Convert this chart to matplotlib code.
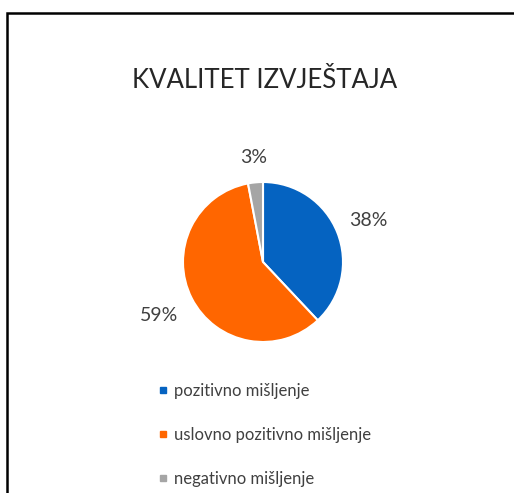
import matplotlib.pyplot as plt
import numpy as np
from matplotlib.lines import Line2D
from matplotlib.patches import Rectangle

plt.rcParams['font.family'] = ['Lato', 'DejaVu Sans']

# Data
title = 'KVALITET IZVJEŠTAJA'
categories = ['pozitivno mišljenje', 'uslovno pozitivno mišljenje', 'negativno mišljenje']
values = [38, 59, 3]
colors = ['#0563C1', '#FF6600', '#A5A5A5']
label_dist = [1.41, 1.46, 1.31]

W, H = 514, 493
fig = plt.figure(figsize=(W / 100, H / 100), dpi=100)

# outer chart frame
fig.patches.append(Rectangle((7 / W, -0.05), 1.1, (H - 13) / H + 0.05,
                             transform=fig.transFigure, fill=False,
                             edgecolor='black', linewidth=1.8))

fig.text(265 / W, 1 - 80 / H, title, ha='center', va='center',
         fontsize=18.5, color='#262626')

# pie axes centred at (263, 262) px with radius 80 px
cx, cy, r = 263, 262, 80
ax = fig.add_axes([(cx - r) / W, (H - cy - r) / H, 2 * r / W, 2 * r / H])
wedges, _ = ax.pie(values, colors=colors, startangle=90, counterclock=False,
                   wedgeprops=dict(edgecolor='white', linewidth=1.5))
ax.set_xlim(-1, 1)
ax.set_ylim(-1, 1)
ax.set_aspect('equal')

for w, v, d in zip(wedges, values, label_dist):
    ang = np.deg2rad((w.theta1 + w.theta2) / 2)
    ax.text(d * np.cos(ang), d * np.sin(ang), f'{v}%', ha='center', va='center',
            fontsize=14, color='#404040')

handles = [Line2D([], [], marker='s', linestyle='', markersize=5,
                  markerfacecolor=c, markeredgecolor=c) for c in colors]
fig.legend(handles, categories, loc='upper left',
           bbox_to_anchor=(143 / W, 1 - 368 / H), frameon=False,
           fontsize=12, labelcolor='#404040', labelspacing=1.68,
           handlelength=0.6, handletextpad=0.35)

fig.savefig('out.png', dpi=100)
